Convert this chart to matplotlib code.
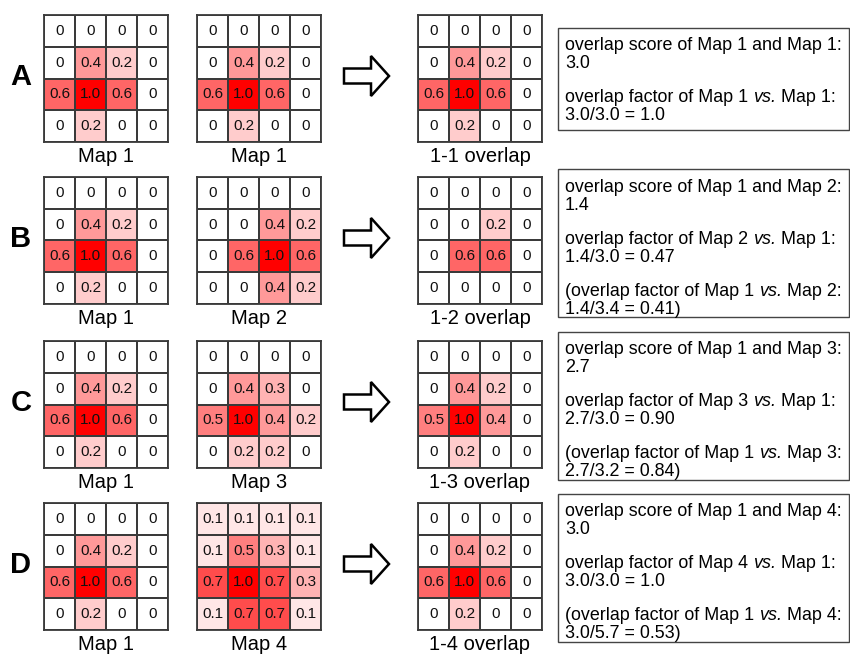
import numpy as np
import matplotlib
matplotlib.use("Agg")
import matplotlib.pyplot as plt
from matplotlib.colors import LinearSegmentedColormap
from matplotlib.patches import Rectangle, FancyArrow

plt.rcParams['font.family'] = ['Liberation Sans', 'DejaVu Sans']

# grid values
map1 = [[0, 0, 0, 0], [0, 0.4, 0.2, 0], [0.6, 1.0, 0.6, 0], [0, 0.2, 0, 0]]
map2 = [[0, 0, 0, 0], [0, 0, 0.4, 0.2], [0, 0.6, 1.0, 0.6], [0, 0, 0.4, 0.2]]
map3 = [[0, 0, 0, 0], [0, 0.4, 0.3, 0], [0.5, 1.0, 0.4, 0.2], [0, 0.2, 0.2, 0]]
map4 = [[0.1, 0.1, 0.1, 0.1], [0.1, 0.5, 0.3, 0.1], [0.7, 1.0, 0.7, 0.3], [0.1, 0.7, 0.7, 0.1]]
overlap11 = [[0, 0, 0, 0], [0, 0.4, 0.2, 0], [0.6, 1.0, 0.6, 0], [0, 0.2, 0, 0]]
overlap12 = [[0, 0, 0, 0], [0, 0, 0.2, 0], [0, 0.6, 0.6, 0], [0, 0, 0, 0]]
overlap13 = [[0, 0, 0, 0], [0, 0.4, 0.2, 0], [0.5, 1.0, 0.4, 0], [0, 0.2, 0, 0]]
overlap14 = [[0, 0, 0, 0], [0, 0.4, 0.2, 0], [0.6, 1.0, 0.6, 0], [0, 0.2, 0, 0]]

row_letters = ['A', 'B', 'C', 'D']
left_maps = [map1, map1, map1, map1]
left_names = ['Map 1', 'Map 1', 'Map 1', 'Map 1']
mid_maps = [map1, map2, map3, map4]
mid_names = ['Map 1', 'Map 2', 'Map 3', 'Map 4']
overlaps = [overlap11, overlap12, overlap13, overlap14]
overlap_names = ['1-1 overlap', '1-2 overlap', '1-3 overlap', '1-4 overlap']

# each line: list of (text, italic) pieces
box_lines = [
    [[("overlap score of Map 1 and Map 1:", False)], [("3.0", False)],
     [("overlap factor of Map 1 ", False), ("vs.", True), (" Map 1:", False)], [("3.0/3.0 = 1.0", False)]],
    [[("overlap score of Map 1 and Map 2:", False)], [("1.4", False)],
     [("overlap factor of Map 2 ", False), ("vs.", True), (" Map 1:", False)], [("1.4/3.0 = 0.47", False)],
     [("(overlap factor of Map 1 ", False), ("vs.", True), (" Map 2:", False)], [("1.4/3.4 = 0.41)", False)]],
    [[("overlap score of Map 1 and Map 3:", False)], [("2.7", False)],
     [("overlap factor of Map 3 ", False), ("vs.", True), (" Map 1:", False)], [("2.7/3.0 = 0.90", False)],
     [("(overlap factor of Map 1 ", False), ("vs.", True), (" Map 3:", False)], [("2.7/3.2 = 0.84)", False)]],
    [[("overlap score of Map 1 and Map 4:", False)], [("3.0", False)],
     [("overlap factor of Map 4 ", False), ("vs.", True), (" Map 1:", False)], [("3.0/3.0 = 1.0", False)],
     [("(overlap factor of Map 1 ", False), ("vs.", True), (" Map 4:", False)], [("3.0/5.7 = 0.53)", False)]],
]

W, H = 850, 654
cmap = LinearSegmentedColormap.from_list('wr', ['#ffffff', '#ff0000'])
edge = '#3a3a3a'

fig = plt.figure(figsize=(W / 100, H / 100), dpi=100)
bg = fig.add_axes([0, 0, 1, 1])
bg.set_xlim(0, W)
bg.set_ylim(H, 0)
bg.axis('off')
renderer = fig.canvas.get_renderer()


def fmt(v):
    return '0' if v == 0 else '%.1f' % v


def draw_grid(vals, x0, y0, label):
    gw, gh = 124, 127
    ax = fig.add_axes([x0 / W, 1 - (y0 + gh) / H, gw / W, gh / H])
    arr = np.array(vals, dtype=float)
    ax.pcolormesh(arr, cmap=cmap, vmin=0, vmax=1, edgecolors=edge, linewidth=1.3)
    ax.set_xlim(0, 4)
    ax.set_ylim(4, 0)
    ax.set_xticks([])
    ax.set_yticks([])
    for s in ax.spines.values():
        s.set_color(edge)
        s.set_linewidth(1.3)
    for i in range(4):
        for j in range(4):
            ax.text(j + 0.5, i + 0.5, fmt(arr[i, j]), ha='center', va='center', fontsize=11, color='#111111')
    bg.text(x0 + gw / 2, y0 + gh + 14, label, ha='center', va='center', fontsize=14.5)


def draw_line(x, y, pieces):
    for txt, ital in pieces:
        t = bg.text(x, y, txt, ha='left', va='center', fontsize=12.9,
                    style='italic' if ital else 'normal')
        bb = t.get_window_extent(renderer=renderer)
        x += bb.width


grid_tops = [15, 177, 341, 503]
box_tops = [28, 169, 332, 494]
box_bottoms = [130, 317, 480, 642]

for r in range(4):
    y0 = grid_tops[r]
    bg.text(21, y0 + 62, row_letters[r], ha='center', va='center', fontsize=21, fontweight='bold')
    draw_grid(left_maps[r], 44, y0, left_names[r])
    draw_grid(mid_maps[r], 197, y0, mid_names[r])
    draw_grid(overlaps[r], 418, y0, overlap_names[r])

    bg.add_patch(FancyArrow(344, y0 + 61, 27, 0, width=15, head_width=40, head_length=18,
                            length_includes_head=False, facecolor='white', edgecolor='black', linewidth=1.8))

    bg.add_patch(Rectangle((558, box_tops[r]), 291, box_bottoms[r] - box_tops[r],
                           facecolor='white', edgecolor='#444444', linewidth=1.0))
    ty = box_tops[r] + 18
    for k, line in enumerate(box_lines[r]):
        yy = ty + (k // 2) * 52 + (k % 2) * 18
        draw_line(565, yy, line)

fig.savefig('out.png', dpi=100)
